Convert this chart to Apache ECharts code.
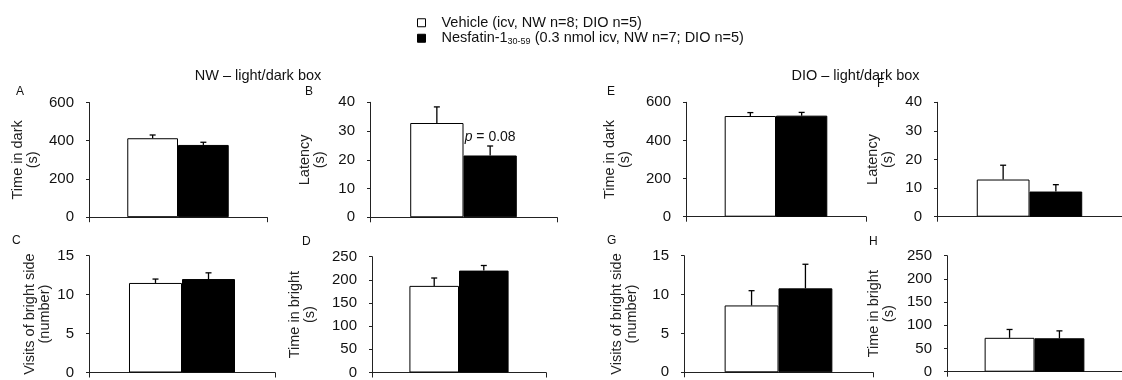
<!DOCTYPE html>
<html>
<head>
    <meta charset="utf-8" />
    <script src="https://cdn.jsdelivr.net/npm/echarts@6.0.0/dist/echarts.min.js"></script>
    <style>
        body { margin: 0px; background: #fff; }
        #main { width: 1122px; height: 380px; }
    </style>
</head>
<body>
    <div id="main"></div>
<script type="text/javascript">
    // panels A-D: NW, E-H: DIO
    var panels = ['A', 'B', 'C', 'D', 'E', 'F', 'G', 'H'];
    var groups = ['Vehicle', 'Nesfatin-1'];
    var legendLabels = ['Vehicle (icv, NW n=8; DIO n=5)', 'Nesfatin-1{sub|30-59} (0.3 nmol icv, NW n=7; DIO n=5)'];
    var sectionTitles = ['NW \u2013 light/dark box', 'DIO \u2013 light/dark box'];
    var yNames = ['Time in dark\n(s)', 'Latency\n(s)', 'Visits of bright side\n(number)', 'Time in bright\n(s)',
                  'Time in dark\n(s)', 'Latency\n(s)', 'Visits of bright side\n(number)', 'Time in bright\n(s)'];
    var yMax = [600, 40, 15, 250, 600, 40, 15, 250];
    var yStep = [200, 10, 5, 50, 200, 10, 5, 50];
    var vehicleMean = [413, 32.8, 11.5, 187, 528, 13.0, 8.6, 73];
    var vehicleSem = [17, 5.6, 0.5, 17, 18, 5.0, 1.9, 18];
    var nesfatinMean = [378, 21.5, 12.0, 220, 530, 8.8, 10.8, 72];
    var nesfatinSem = [14, 3.3, 0.8, 11, 17, 2.4, 3.1, 16];
    var pText = ['', 'p = 0.08', '', '', '', '', '', ''];

    // layout of each panel (pixels)
    var layout = [
        { left: 89, top: 102.5, width: 178, height: 114.7, gap: 49, lx: 16, ly: 93 },
        { left: 370, top: 102.3, width: 187, height: 115, gap: 43, lx: 305, ly: 93 },
        { left: 89, top: 255.7, width: 186, height: 117, gap: 37, lx: 12, ly: 242 },
        { left: 372, top: 256.7, width: 174, height: 116, gap: 55, lx: 302, ly: 243 },
        { left: 686, top: 102.3, width: 180, height: 114.4, gap: 54, lx: 607, ly: 93 },
        { left: 937, top: 102.3, width: 189, height: 114.4, gap: 42, lx: 877, ly: 85 },
        { left: 684, top: 255.7, width: 189, height: 116.6, gap: 45, lx: 607, ly: 242 },
        { left: 947, top: 255.7, width: 181, height: 116, gap: 51, lx: 869, ly: 243 }
    ];
    var FONT = '"Liberation Sans", Arial, sans-serif';
    var CAT_GAP = 0.43;

    var grid = [], xAxis = [], yAxis = [], series = [], graphic = [];

    panels.forEach(function (p, i) {
        var L = layout[i];
        grid.push({ left: L.left, top: L.top, width: L.width, height: L.height });
        xAxis.push({
            type: 'category', gridIndex: i, data: [''],
            axisLine: { lineStyle: { color: '#222', width: 1 } },
            axisTick: { show: true, length: 5, lineStyle: { color: '#222' } },
            axisLabel: { show: false }
        });
        yAxis.push({
            type: 'value', gridIndex: i, min: 0, max: yMax[i], interval: yStep[i],
            name: yNames[i], nameLocation: 'middle', nameGap: L.gap,
            nameTextStyle: { fontFamily: FONT, fontSize: 14.5, color: '#222', lineHeight: 15 },
            axisLine: { show: true, lineStyle: { color: '#222', width: 1 } },
            axisTick: { show: true, length: 3, lineStyle: { color: '#222' } },
            axisLabel: { fontFamily: FONT, fontSize: 15, color: '#111', margin: 15 },
            splitLine: { show: false }
        });
        series.push({
            name: groups[0], type: 'bar', xAxisIndex: i, yAxisIndex: i,
            barGap: 0, barCategoryGap: (CAT_GAP * 100) + '%',
            itemStyle: { color: '#fff', borderColor: '#000', borderWidth: 1 },
            data: [vehicleMean[i]]
        });
        series.push({
            name: groups[1], type: 'bar', xAxisIndex: i, yAxisIndex: i,
            itemStyle: { color: '#000', borderColor: '#000', borderWidth: 1 },
            label: {
                show: pText[i] !== '', position: 'top', distance: 11,
                fontFamily: FONT, fontSize: 14, color: '#111',
                formatter: function () { return pText[i].replace(/^p/, '{it|p}'); },
                rich: { it: { fontFamily: FONT, fontSize: 14, fontStyle: 'italic', color: '#111' } }
            },
            data: [nesfatinMean[i]]
        });
        // error bars (mean + SEM, upper only)
        series.push({
            type: 'custom', xAxisIndex: i, yAxisIndex: i, z: 5,
            data: [[0, vehicleMean[i], vehicleSem[i], 0], [0, nesfatinMean[i], nesfatinSem[i], 1]],
            encode: { x: 0, y: 1 },
            renderItem: function (params, api) {
                var bw = api.size([1, 0])[0];
                var barW = bw * (1 - CAT_GAP) / 2;
                var off = (api.value(3) === 0 ? -0.5 : 0.5) * barW;
                var base = api.coord([api.value(0), api.value(1)]);
                var top = api.coord([api.value(0), api.value(1) + api.value(2)]);
                var x = base[0] + off;
                var st = { stroke: '#000', lineWidth: 1.3 };
                return {
                    type: 'group',
                    children: [
                        { type: 'line', shape: { x1: x, y1: base[1], x2: x, y2: top[1] }, style: st },
                        { type: 'line', shape: { x1: x - 3, y1: top[1], x2: x + 3, y2: top[1] }, style: st }
                    ]
                };
            }
        });
        graphic.push({
            type: 'text', left: L.lx, top: L.ly - 7,
            style: { text: p, fontFamily: FONT, fontSize: 12, fill: '#111' }
        });
    });

    graphic.push({
        type: 'text', x: 258, y: 76,
        style: { text: sectionTitles[0], fontFamily: FONT, fontSize: 14.5, fill: '#111', align: 'center', verticalAlign: 'middle' }
    });
    graphic.push({
        type: 'text', x: 855.5, y: 76,
        style: { text: sectionTitles[1], fontFamily: FONT, fontSize: 14.5, fill: '#111', align: 'center', verticalAlign: 'middle' }
    });

    var chart = echarts.init(document.getElementById('main'));
    chart.setOption({
        animation: false,
        legend: {
            orient: 'vertical', left: 412, top: 10, itemWidth: 8, itemHeight: 8, itemGap: 0,
            icon: 'rect',
            data: [
                { name: groups[0], itemStyle: { color: '#fff', borderColor: '#000', borderWidth: 1 } },
                { name: groups[1], itemStyle: { color: '#000', borderColor: '#000', borderWidth: 1 } }
            ],
            formatter: function (name) { return legendLabels[groups.indexOf(name)]; },
            textStyle: {
                fontFamily: FONT, fontSize: 14.5, color: '#111', lineHeight: 15.5, padding: [0, 0, 0, 11],
                rich: { sub: { fontFamily: FONT, fontSize: 9, lineHeight: 15.5, padding: [6, 0, 0, 0] } }
            }
        },
        grid: grid,
        xAxis: xAxis,
        yAxis: yAxis,
        series: series,
        graphic: graphic
    });
</script>
</body>
</html>
